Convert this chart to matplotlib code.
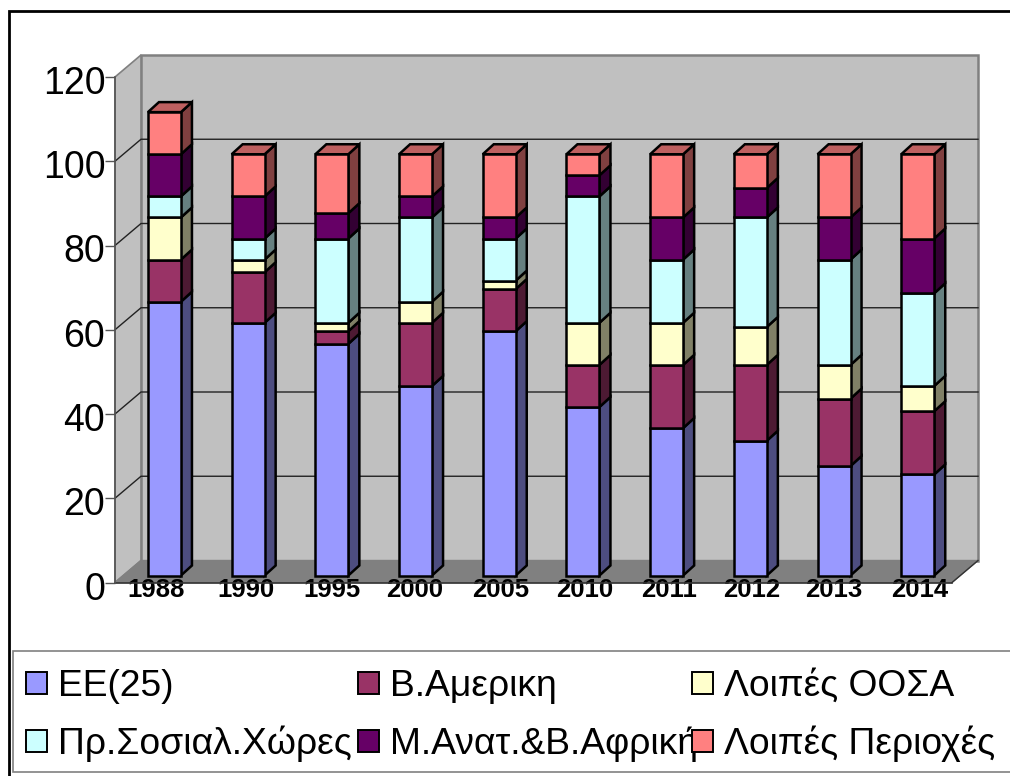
import matplotlib
matplotlib.use('Agg')
import matplotlib.pyplot as plt
from matplotlib.patches import Polygon, Rectangle
from matplotlib.transforms import ScaledTranslation

plt.rcParams['font.family'] = ['Liberation Sans', 'DejaVu Sans']

years = ['1988', '1990', '1995', '2000', '2005', '2010', '2011', '2012', '2013', '2014']
ee25 = [65, 60, 55, 45, 58, 40, 35, 32, 26, 24]
v_america = [10, 12, 3, 15, 10, 10, 15, 18, 16, 15]
loipes_oosa = [10, 3, 2, 5, 2, 10, 10, 9, 8, 6]
pr_sosial = [5, 5, 20, 20, 10, 30, 15, 26, 25, 22]
m_anat = [10, 10, 6, 5, 5, 5, 10, 7, 10, 13]
loipes_per = [10, 10, 14, 10, 15, 5, 15, 8, 15, 20]
series = [ee25, v_america, loipes_oosa, pr_sosial, m_anat, loipes_per]
names = ['ΕΕ(25)', 'Β.Αμερικη', 'Λοιπές ΟΟΣΑ',
         'Πρ.Σοσιαλ.Χώρες', 'Μ.Ανατ.&Β.Αφρική', 'Λοιπές Περιοχές']
front = ['#9999FF', '#993366', '#FFFFCC', '#CCFFFF', '#660066', '#FF8080']
side = ['#4D4D80', '#4D1A33', '#808066', '#668080', '#330033', '#804040']
top = ['#7373BF', '#73264D', '#BFBF99', '#99BFBF', '#4D004D', '#BF6060']

W, H = 1010, 776
fig = plt.figure(figsize=(W / 100, H / 100), dpi=100)

# outer frame + legend box, pixel coords
bg = fig.add_axes([0, 0, 1, 1])
bg.set_xlim(0, W)
bg.set_ylim(H, 0)
bg.axis('off')
bg.add_patch(Rectangle((8.5, 11), 1100, 800, fc='white', ec='black', lw=2))
bg.add_patch(Rectangle((13, 651), 1100, 121, fc='white', ec='#808080', lw=1.2))

# plot axes: front floor edge to top of the left wall
left, right, y0, y120 = 115, 952, 582.5, 77
ax = fig.add_axes([left / W, 1 - y0 / H, (right - left) / W, (y0 - y120) / H])
ax.set_xlim(0, len(years))
ax.set_ylim(0, 120)
ax.patch.set_alpha(0)
for s in ax.spines.values():
    s.set_visible(False)

# pixel -> data size
px = len(years) / (right - left)
py = 120 / (y0 - y120)
depth_x, depth_y = 26 * px, 22 * py

# walls and floor
ax.add_patch(Polygon([(depth_x, depth_y), (10 + depth_x, depth_y), (10 + depth_x, 120 + depth_y), (depth_x, 120 + depth_y)],
                     fc='#C0C0C0', ec='#808080', lw=1.8, clip_on=False, zorder=1))
ax.add_patch(Polygon([(0, 0), (depth_x, depth_y), (depth_x, 120 + depth_y), (0, 120)],
                     fc='#C0C0C0', ec='#808080', lw=1.2, clip_on=False, zorder=1))
ax.add_patch(Polygon([(0, 0), (10, 0), (10 + depth_x, depth_y), (depth_x, depth_y)],
                     fc='#808080', ec='#808080', lw=1, clip_on=False, zorder=1))
for v in range(20, 101, 20):
    ax.plot([0, depth_x, 10 + depth_x], [v, v + depth_y, v + depth_y], color='#222222', lw=1, clip_on=False, zorder=2)
ax.plot([0, 10], [0, 0], color='#333333', lw=1.2, zorder=2, clip_on=False)
ax.plot([10, 10 + depth_x], [0, depth_y], color='#333333', lw=1, zorder=2, clip_on=False)
ax.plot([0, 0], [0, 120], color='#555555', lw=1.2, zorder=2, clip_on=False)

# 3d bars
bar_w = 33 * px
shift_x, shift_y = 7.6 * px, 7 * py
dx, dy = 11 * px, 10 * py
for i in range(len(years)):
    x0 = i + 0.5 - bar_w / 2 + shift_x
    bottom = shift_y
    for k, vals in enumerate(series):
        v = vals[i]
        ax.bar(x0, v, bar_w, bottom=bottom, align='edge', color=front[k], edgecolor='black', lw=1.8, zorder=5, clip_on=False)
        ax.add_patch(Polygon([(x0 + bar_w, bottom), (x0 + bar_w + dx, bottom + dy),
                              (x0 + bar_w + dx, bottom + v + dy), (x0 + bar_w, bottom + v)],
                             fc=side[k], ec='black', lw=1.8, zorder=4, clip_on=False))
        bottom += v
    ax.add_patch(Polygon([(x0, bottom), (x0 + bar_w, bottom), (x0 + bar_w + dx, bottom + dy), (x0 + dx, bottom + dy)],
                         fc=top[len(series) - 1], ec='black', lw=1.8, zorder=4, clip_on=False))

# year labels are not evenly spaced in the original
label_px = [156, 246, 332, 415, 501, 585, 669, 752, 834, 920]
ax.set_xticks([(p - left) * px for p in label_px])
ax.set_xticklabels(years, fontsize=18.5, fontweight='bold')
ax.tick_params(axis='x', length=0, pad=-3)
ax.set_yticks(range(0, 121, 20))
ax.tick_params(axis='y', labelsize=27, length=7, width=1, color='#555555', pad=0)
down = ScaledTranslation(0, -3 / 100, fig.dpi_scale_trans)
for lab in ax.get_yticklabels():
    lab.set_transform(lab.get_transform() + down)

# legend
col_x = [26, 358, 692]
row_y = [683, 741]
for k, name in enumerate(names):
    cx = col_x[k % 3]
    cy = row_y[k // 3]
    bg.text(cx + 32, cy + 3, name, fontsize=26.8, va='center', ha='left', color='black', zorder=6)
    bg.add_patch(Rectangle((cx, cy - 11), 21, 22, fc=front[k], ec='black', lw=1.4, zorder=7))

fig.savefig('out.png', dpi=100)
